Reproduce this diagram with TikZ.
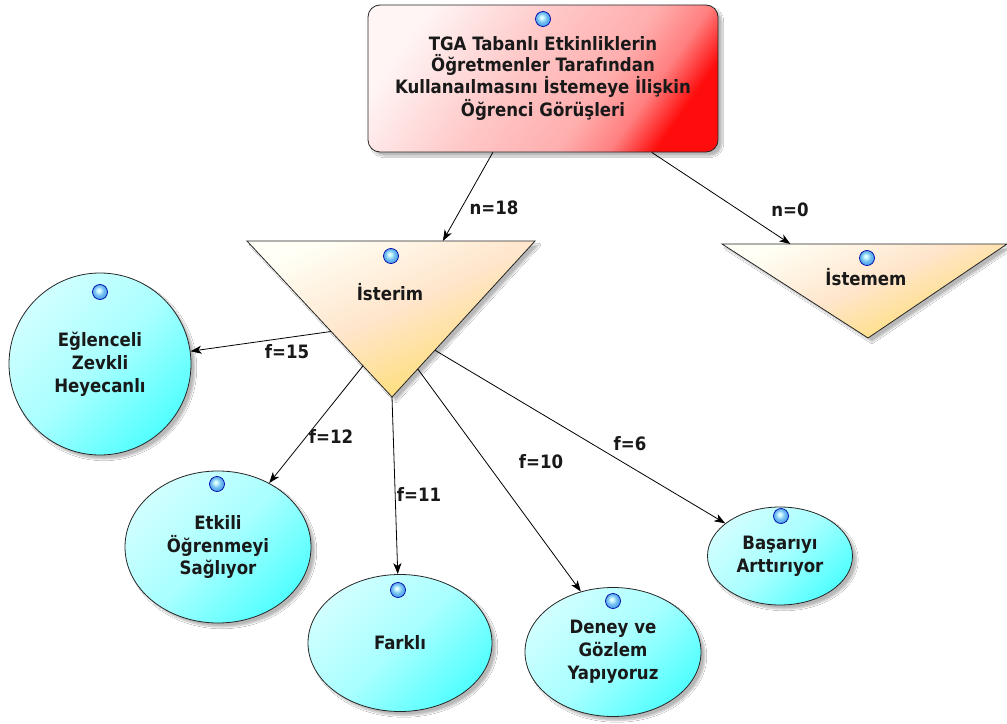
\documentclass[tikz,border=0pt]{standalone}
\usepackage{fontspec}
\newfontfamily\lblfont{DejaVu Sans Condensed}
\usetikzlibrary{arrows.meta,calc,shapes.geometric,shadows.blur}

% diagonal fills: light at the upper left, strong at the lower right
\pgfdeclarehorizontalshading{rootfade}{100bp}{color(0bp)=(red!4!white); color(25bp)=(red!4!white); color(45bp)=(red!22!white); color(60bp)=(red!32!white); color(68bp)=(red!50!white); color(75bp)=(red!95!white); color(100bp)=(red!95!white)}
\pgfdeclarehorizontalshading{trifade}{100bp}{color(0bp)=(white); color(25bp)=(yellow!4!white); color(48bp)=(orange!20!white); color(75bp)=(orange!45!yellow!60!white); color(100bp)=(orange!45!yellow!60!white)}
\pgfdeclarehorizontalshading{cyanfade}{100bp}{color(0bp)=(cyan!18!white); color(25bp)=(cyan!18!white); color(50bp)=(cyan!34!white); color(75bp)=(cyan!68!white); color(100bp)=(cyan!68!white)}
\definecolor{balltone}{RGB}{70,165,235}
% glossy bead: white highlight towards the upper left, sky blue body
\pgfdeclareradialshading{bead}{\pgfpoint{-5bp}{6bp}}{color(0bp)=(white); color(5bp)=(cyan!20!white); color(16bp)=(balltone!75!white); color(25bp)=(balltone); color(50bp)=(balltone)}

\tikzset{
  edge/.style={draw=black, line width=0.8bp, -{Stealth[length=11bp,width=8bp,inset=3bp]}},
  txt/.style={font=\lblfont\bfseries\fontsize{18.5}{21}\selectfont, text=black!90, align=center},
  elab/.style={font=\lblfont\bfseries\fontsize{18.5}{21}\selectfont, text=black!90, inner sep=1bp},
  soft/.style={blur shadow={shadow xshift=4bp, shadow yshift=-4bp, shadow blur steps=6, shadow opacity=28}},
  rootbox/.style={rectangle, rounded corners=12bp, draw=black!85, line width=0.8bp,
    shade, shading=rootfade, shading angle=-35, soft,
    minimum width=350bp, minimum height=147bp, inner sep=0pt, txt},
  bubble/.style={ellipse, draw=black!85, line width=0.8bp, shade, shading=cyanfade,
    shading angle=-45, soft, inner sep=0pt, txt, font=\lblfont\bfseries\fontsize{18.5}{23}\selectfont},
  trishape/.style={draw=black!85, line width=0.8bp, shade, shading=trifade, shading angle=-65, soft},
  ball/.style={circle, minimum size=15bp, inner sep=0pt, shade, shading=bead,
    draw=blue!65!black, line width=0.7bp},
}

\begin{document}
\begin{tikzpicture}[x=1bp, y=-1bp]
  \useasboundingbox[fill=white] (0,0) rectangle (1007,724);

  % root question
  \node[rootbox] (root) at (543,78.5)
    {TGA Tabanlı Etkinliklerin\\Öğretmenler Tarafından\\Kullanaılmasını İstemeye İlişkin\\Öğrenci Görüşleri};
  \node[ball] (rootball) at (543,19) {};

  % answer triangles
  \coordinate (isL) at (247,241);
  \coordinate (isR) at (535,241);
  \coordinate (isB) at (392,397);
  \path[trishape] (isL) -- (isR) -- (isB) -- cycle;
  \node[ball] (isball) at (391,256) {};
  \node[txt] (isterim) at (390,292) {İsterim};

  \coordinate (noL) at (722,244);
  \coordinate (noR) at (1007,244);
  \coordinate (noB) at (868,338);
  \path[trishape] (noL) -- (noR) -- (noB) -- cycle;
  \node[ball] (noball) at (867,258) {};
  \node[txt] (istemem) at (866,277) {İstemem};

  % reasons
  \node[bubble, minimum width=182bp, minimum height=182bp] (egl) at (100,364)
    {Eğlenceli\\Zevkli\\Heyecanlı};
  \node[ball] (eglball) at (100,292) {};

  \node[bubble, minimum width=186bp, minimum height=152bp] (etk) at (218,547)
    {Etkili\\Öğrenmeyi\\Sağlıyor};
  \node[ball] (etkball) at (217,484) {};

  \node[bubble, minimum width=184bp, minimum height=137bp] (far) at (400,643)
    {Farklı};
  \node[ball] (farball) at (398,590) {};

  \node[bubble, minimum width=176bp, minimum height=129bp] (den) at (613,652)
    {Deney ve\\Gözlem\\Yapıyoruz};
  \node[ball] (denball) at (613,601) {};

  \node[bubble, minimum width=145bp, minimum height=98bp] (bas) at (780,556)
    {Başarıyı\\Arttırıyor};
  \node[ball] (basball) at (781,516) {};

  % connectors
  \draw[edge] ($(root.south west)!0.357!(root.south east)$) -- ($(isL)!0.68!(isR)$);
  \draw[edge] ($(root.south west)!0.81!(root.south east)$) -- ($(noL)!0.24!(noR)$);
  \draw[edge] ($(isL)!0.58!(isB)$) -- (egl);
  \draw[edge] ($(isL)!0.80!(isB)$) -- (etk);
  \draw[edge] (isB) -- (far);
  \draw[edge] ($(isR)!0.82!(isB)$) -- (den.118);
  \draw[edge] ($(isR)!0.70!(isB)$) -- (bas);

  % counts
  \node[elab] (n18) at (494,208) {n=18};
  \node[elab] (n0)  at (790,210) {n=0};
  \node[elab] (f15) at (287,352) {f=15};
  \node[elab] (f12) at (331,436) {f=12};
  \node[elab] (f11) at (419,494) {f=11};
  \node[elab] (f10) at (541,462) {f=10};
  \node[elab] (f6)  at (630,444) {f=6};
\end{tikzpicture}
\end{document}
